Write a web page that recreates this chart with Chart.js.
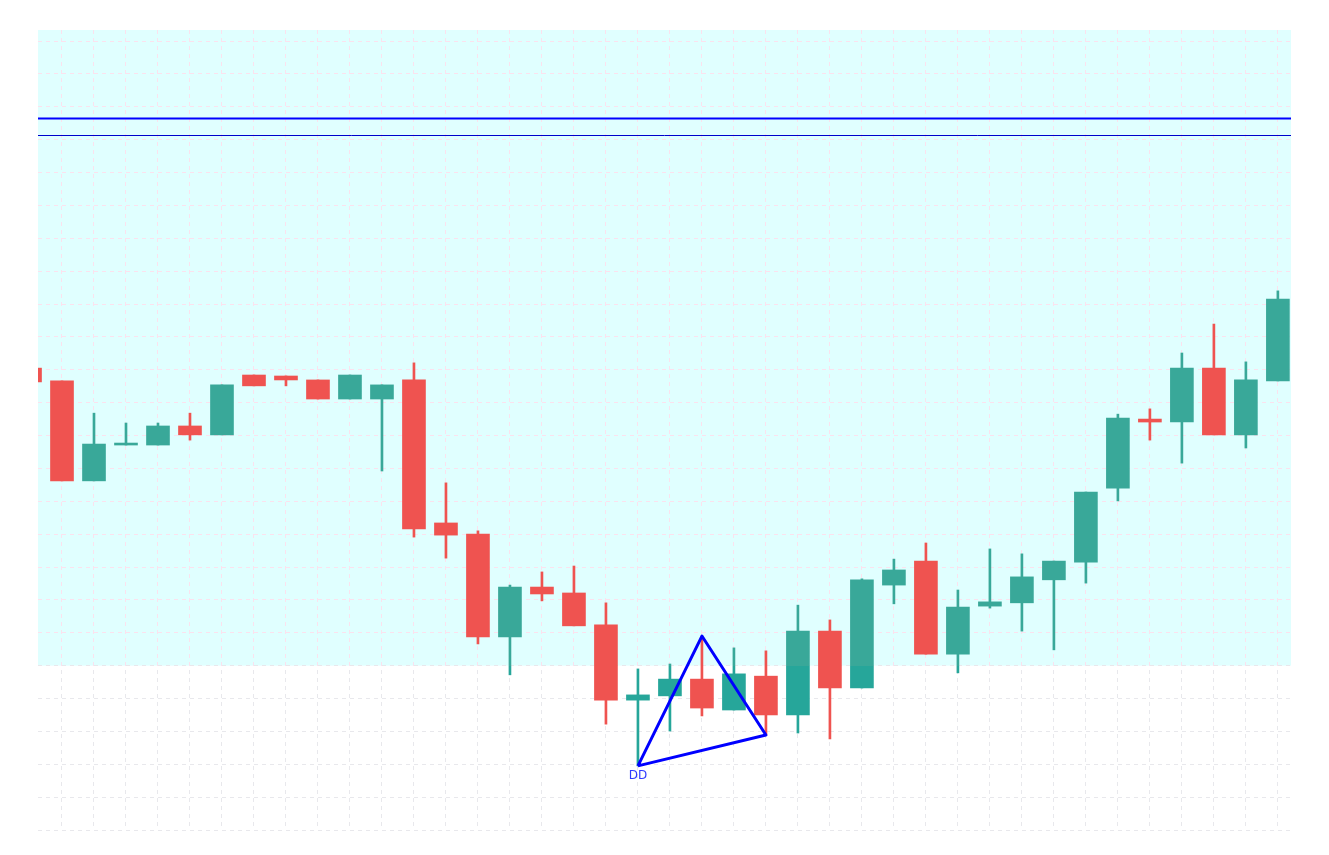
<!DOCTYPE html>
<html>
<head>
<meta charset="utf-8">
<title>Candles</title>
<script src="https://cdn.jsdelivr.net/npm/chart.js@4/dist/chart.umd.min.js"></script>
<style>
    html, body { margin: 0; padding: 0; background: #fff; }
    #chart { display: block; }
</style>
</head>
<body>
<canvas id="chart" width="1329" height="855"></canvas>
<script>
// OHLC, one bar per session (array position = session number)
const opens  = [140.5, 136.6, 106.2, 117.1, 117.1, 122.9, 120.2, 138.4, 138.1, 136.9,
                131.1, 131.1, 136.9,  93.4,  90.0,  58.7,  73.9,  72.1,  62.4,  39.5,
                 40.8,  45.9,  36.5,  46.8,  35.0,  60.5,  43.2,  74.5,  81.8,  53.5,
                 68.1,  69.1,  76.1,  81.5, 104.0, 125.0, 124.1, 140.5, 120.2, 136.6];
const highs  = [140.5, 136.6, 126.8, 123.8, 123.8, 126.8, 135.4, 138.4, 138.1, 136.9,
                138.4, 135.4, 142.1, 105.6,  91.0,  74.5,  78.5,  80.3,  69.1,  49.0,
                 50.5,  59.0,  55.4,  54.5,  68.4,  63.9,  76.4,  82.4,  87.3,  73.0,
                 85.5,  84.0,  81.8, 102.8, 126.5, 128.1, 145.1, 153.9, 142.4, 164.0];
const lows   = [136.3, 106.2, 106.2, 117.1, 117.1, 118.6, 120.2, 135.1, 135.1, 131.1,
                131.1, 109.2,  89.1,  82.7,  56.6,  47.2,  69.7,  62.1,  32.2,  19.5,
                 30.1,  34.7,  36.5,  28.9,  29.5,  27.7,  43.2,  68.8,  53.5,  47.8,
                 67.5,  60.5,  54.8,  75.1, 100.1, 118.6, 111.6, 120.2, 116.2, 136.6];
const closes = [136.3, 106.2, 117.4, 117.4, 122.9, 120.2, 135.4, 135.1, 136.9, 131.1,
                138.4, 135.4,  91.6,  89.7,  58.7,  73.9,  71.8,  62.1,  39.5,  41.1,
                 45.9,  37.1,  47.5,  35.0,  60.5,  43.2,  76.1,  79.1,  53.5,  67.8,
                 69.4,  77.0,  81.8, 102.8, 125.3, 124.1, 140.5, 120.2, 136.9, 161.5];

// shaded zone (everything above this price), horizontal levels, pattern
const zoneFloor = 50;
const levels = [216.6, 211.4];
const patternX = [19, 21, 23, 19];
const patternY = [19.5, 59.0, 28.9, 19.5];
const patternLabel = 'DD';

const UP = '#26a69a';
const UP_ZONE = '#39a899';
const DOWN = '#ef5350';
const GRID = '#e8e8ec';
const GRID_ZONE = '#fbe2ee';

// split colour at the zone edge (colour changes where the shading stops)
function splitFill(c, above, below) {
    const chart = c.chart;
    const area = chart.chartArea;
    if (!area) return below;
    const edge = chart.scales.y.getPixelForValue(zoneFloor);
    const f = Math.min(1, Math.max(0, (edge - area.top) / (area.bottom - area.top)));
    const g = chart.ctx.createLinearGradient(0, area.top, 0, area.bottom);
    g.addColorStop(0, above);
    g.addColorStop(f, above);
    g.addColorStop(f, below);
    g.addColorStop(1, below);
    return g;
}

function candleColor(c) {
    const i = c.dataIndex;
    if (i === undefined) return UP;
    return closes[i] >= opens[i] ? splitFill(c, UP_ZONE, UP) : DOWN;
}

const zonePlugin = {
    id: 'zone',
    beforeDraw(chart) {
        const { ctx, chartArea: a, scales: { y } } = chart;
        const edge = y.getPixelForValue(zoneFloor);
        ctx.save();
        ctx.fillStyle = '#e0ffff';
        ctx.fillRect(a.left, a.top, a.right - a.left, edge - a.top);
        ctx.restore();
    },
    afterDatasetsDraw(chart) {
        const { ctx, chartArea: a, scales: { x, y } } = chart;
        ctx.save();
        // levels
        levels.forEach((v, k) => {
            const py = Math.round(y.getPixelForValue(v)) + 0.5;
            ctx.strokeStyle = k === 0 ? '#0000ff' : '#0000cc';
            ctx.lineWidth = k === 0 ? 2 : 1;
            ctx.beginPath();
            ctx.moveTo(a.left, py);
            ctx.lineTo(a.right, py);
            ctx.stroke();
        });
        // pattern label under its first point
        ctx.fillStyle = '#2f3bff';
        ctx.font = '12px "DejaVu Sans", sans-serif';
        ctx.textAlign = 'center';
        ctx.textBaseline = 'middle';
        ctx.fillText(patternLabel, x.getPixelForValue(patternX[0]), y.getPixelForValue(patternY[0]) + 10);
        ctx.restore();
    }
};

const wicks = opens.map((o, i) => ({ x: i, y: [lows[i], highs[i]] }));
const bodies = opens.map((o, i) => ({ x: i, y: [o, closes[i]] }));
const pattern = patternX.map((px, i) => ({ x: px, y: patternY[i] }));

new Chart(document.getElementById('chart'), {
    type: 'bar',
    data: {
        datasets: [
            {
                type: 'line',
                data: pattern,
                borderColor: '#0000ff',
                borderWidth: 3,
                pointRadius: 0,
                fill: false,
                tension: 0,
                borderJoinStyle: 'round',
                order: -1
            },
            {
                data: bodies,
                backgroundColor: candleColor,
                borderWidth: 0,
                barThickness: 23,
                minBarLength: 2,
                grouped: false,
                order: 0
            },
            {
                data: wicks,
                backgroundColor: candleColor,
                borderWidth: 0,
                barThickness: 2,
                grouped: false,
                order: 1
            }
        ]
    },
    options: {
        responsive: false,
        animation: false,
        layout: { padding: { left: 38, right: 38, top: 30, bottom: 25 } },
        plugins: { legend: { display: false }, tooltip: { enabled: false } },
        scales: {
            x: {
                type: 'linear',
                min: 0.25,
                max: 39.41,
                offset: false,
                ticks: { display: false, stepSize: 1, includeBounds: false },
                grid: {
                    offset: false,
                    drawTicks: false,
                    color: c => splitFill(c, GRID_ZONE, GRID)
                },
                border: { display: false, dash: [4, 4] }
            },
            y: {
                min: 0,
                max: 243.35,
                ticks: { display: false, stepSize: 10, includeBounds: false },
                grid: {
                    drawTicks: false,
                    color: c => (c.tick && c.tick.value > zoneFloor) ? GRID_ZONE : GRID
                },
                border: { display: false, dash: [4, 4] }
            }
        }
    },
    plugins: [zonePlugin]
});
</script>
</body>
</html>
